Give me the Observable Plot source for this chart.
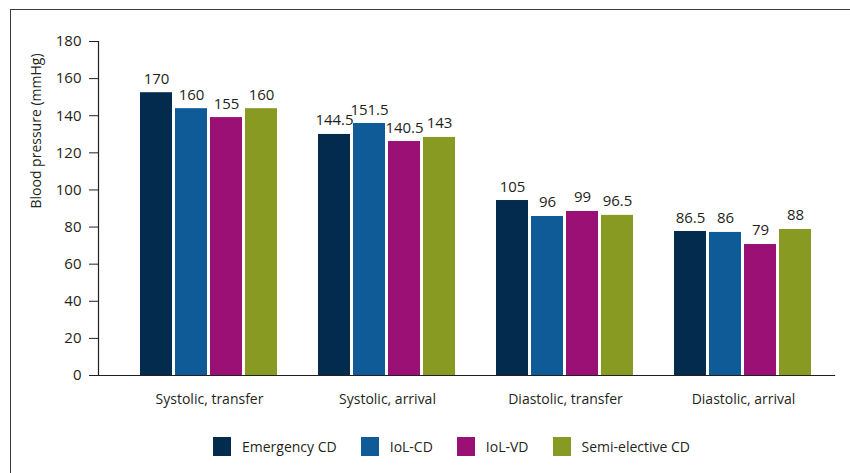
<!DOCTYPE html>
<html>
<head>
<meta charset="utf-8">
<script src="https://cdn.jsdelivr.net/npm/d3@7"></script>
<script src="https://cdn.jsdelivr.net/npm/@observablehq/plot@0.6"></script>
<style>
  html, body { margin: 0; padding: 0; background: #fff; }
  body { width: 850px; height: 473px; position: relative; overflow: hidden; font-family: "Open Sans", sans-serif; color: #231f20; }
  #frame { position: absolute; left: 10px; top: 9px; width: 900px; height: 500px; border-left: 1px solid #3c3c3c; border-top: 1px solid #3c3c3c; }
  #chart { position: absolute; left: 0; top: 0; }
  #legend { position: absolute; left: 213px; top: 437px; display: flex; align-items: center; gap: 24px; font-size: 14px; }
  #legend .item { display: flex; align-items: center; gap: 11px; }
  #legend .sw { width: 18px; height: 19px; }
</style>
</head>
<body>
<div id="frame"></div>
<div id="chart"></div>
<div id="legend"></div>
<script>
const groups = ["Systolic, transfer", "Systolic, arrival", "Diastolic, transfer", "Diastolic, arrival"];
const series = ["Emergency CD", "IoL-CD", "IoL-VD", "Semi-elective CD"];
const colors = ["#022b4d", "#0e5b98", "#9b1075", "#899a23"];

// bar heights as drawn in the figure
const emergencyCD = [152.4, 129.9, 94.3, 77.6];
const iolCD = [143.8, 135.8, 85.7, 77.1];
const iolVD = [139.0, 126.1, 88.4, 70.6];
const semiElectiveCD = [143.8, 128.3, 86.3, 78.7];

// value labels printed above the bars
const emergencyCDLabels = ["170", "144.5", "105", "86.5"];
const iolCDLabels = ["160", "151.5", "96", "86"];
const iolVDLabels = ["155", "140.5", "99", "79"];
const semiElectiveCDLabels = ["160", "143", "96.5", "88"];

const yTicks = [0, 20, 40, 60, 80, 100, 120, 140, 160, 180];
const yTitle = "Blood pressure (mmHg)";

const values = [emergencyCD, iolCD, iolVD, semiElectiveCD];
const labels = [emergencyCDLabels, iolCDLabels, iolVDLabels, semiElectiveCDLabels];
const data = [];
groups.forEach((g, gi) => series.forEach((s, si) => {
  data.push({group: g, series: s, value: values[si][gi], label: labels[si][gi]});
}));

const font = "'Open Sans', sans-serif";

const chart = Plot.plot({
  width: 850,
  height: 420,
  marginLeft: 97,
  marginRight: 16,
  marginTop: 41,
  marginBottom: 45,
  style: {fontFamily: font, fontSize: "15px", color: "#231f20", background: "transparent"},
  fx: {domain: groups, paddingInner: 0.215, paddingOuter: 0.174, align: 0.66, label: null},
  x: {domain: series, paddingInner: 0.085, paddingOuter: 0, axis: null},
  y: {domain: [0, 180], label: null},
  color: {domain: series, range: colors},
  marks: [
    Plot.barY(data, {fx: "group", x: "series", y: "value", fill: "series"}),
    Plot.text(data, {fx: "group", x: "series", y: "value", text: "label", lineAnchor: "bottom", dy: -9, fontSize: 15, fill: "#231f20"}),
    Plot.frame({anchor: "left", facet: "super", insetLeft: -41, stroke: "#231f20", strokeWidth: 1.2}),
    Plot.frame({anchor: "bottom", facet: "super", insetLeft: -41, insetRight: -21, stroke: "#231f20", strokeWidth: 1.2}),
    Plot.axisY({ticks: yTicks, tickSize: 9, tickPadding: 8, fontSize: 15, stroke: "#231f20", dx: -41, label: null}),
    Plot.text([yTitle], {frameAnchor: "left", rotate: -90, dx: -103, facet: "super", fontSize: 14, fill: "#231f20"}),
    Plot.axisFx({anchor: "bottom", tickSize: 0, tickPadding: 19, fontSize: 14, label: null})
  ]
});
document.getElementById("chart").appendChild(chart);

const legend = document.getElementById("legend");
series.forEach((s, i) => {
  const item = document.createElement("div");
  item.className = "item";
  const sw = document.createElement("div");
  sw.className = "sw";
  sw.style.background = colors[i];
  const lab = document.createElement("span");
  lab.textContent = s;
  item.appendChild(sw);
  item.appendChild(lab);
  legend.appendChild(item);
});
</script>
</body>
</html>
